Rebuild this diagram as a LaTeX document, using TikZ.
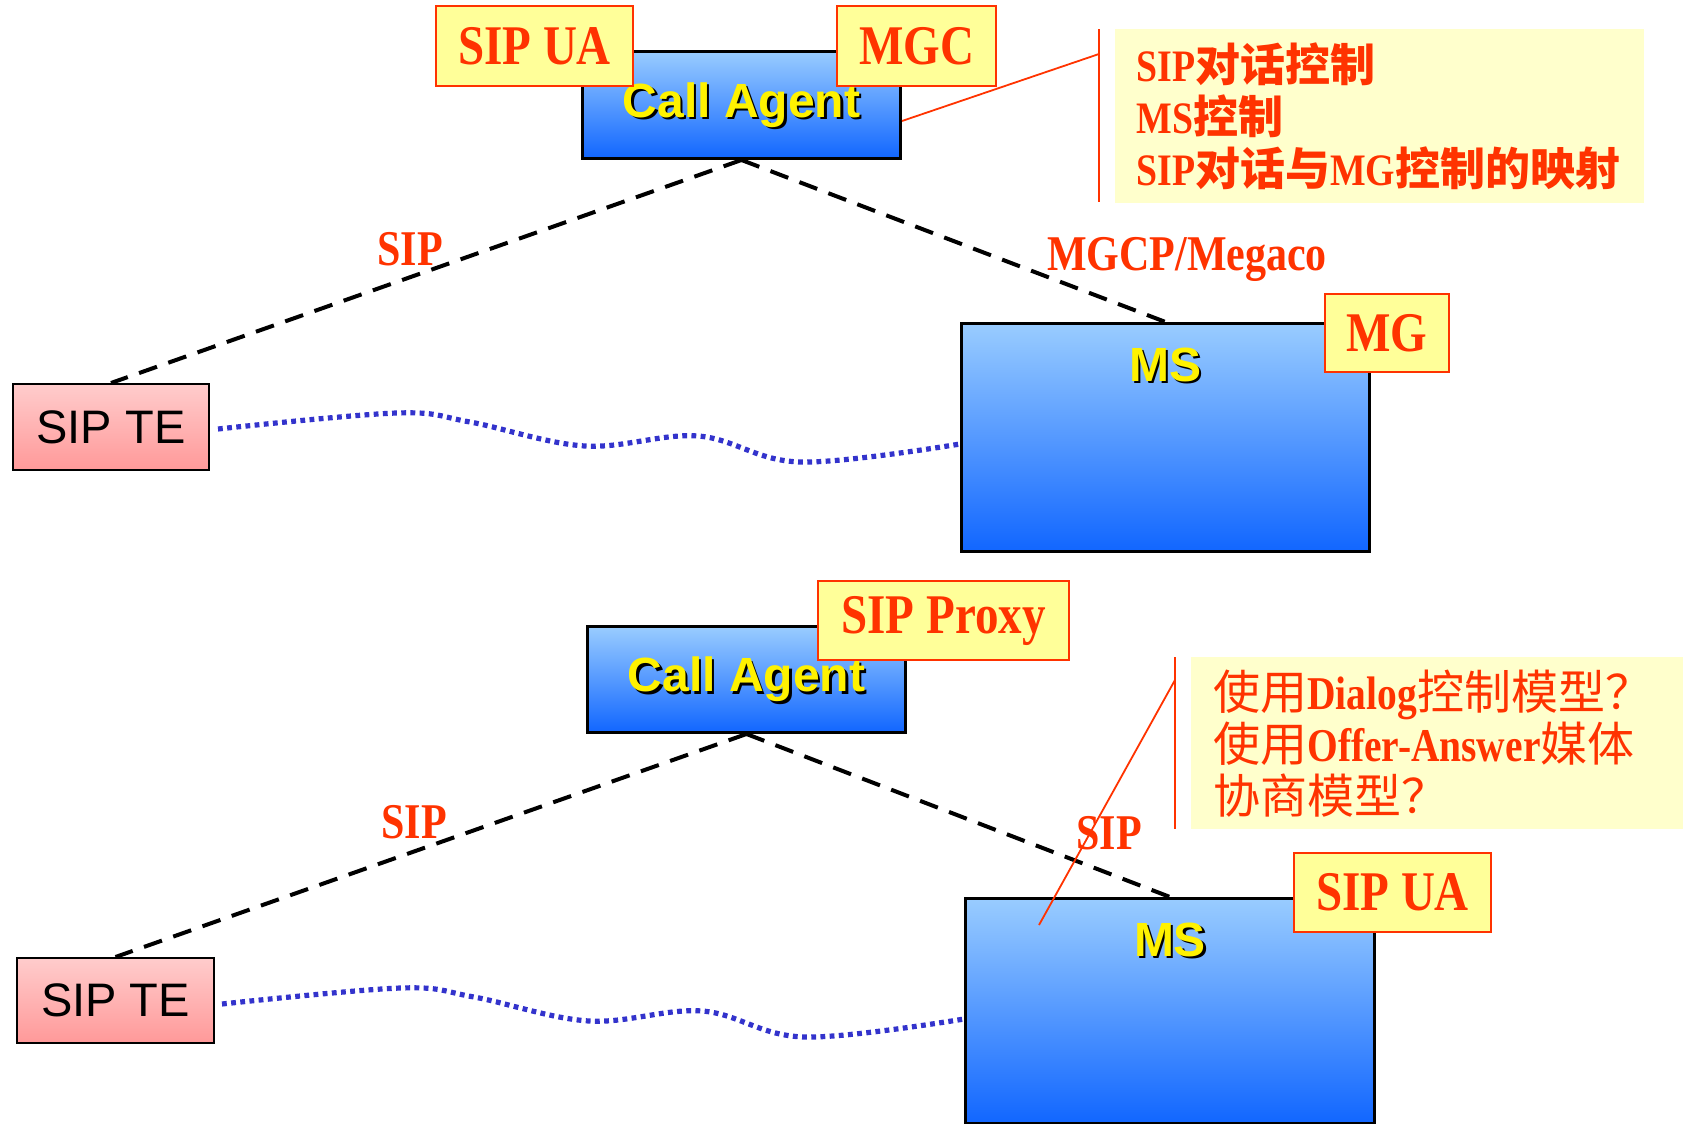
\documentclass[tikz,border=0pt]{standalone}
\usepackage{fontspec}
\setmainfont{Liberation Serif}
\newfontfamily\labfont[FakeStretch=0.84]{Liberation Serif}
\newfontfamily\sansfnt{Liberation Sans}
\newfontfamily\cjkfnt{Noto Sans CJK SC}
\usetikzlibrary{backgrounds}
\newcommand{\lat}[1]{{\labfont\bfseries #1}}
\newcommand{\zh}[1]{{\cjkfnt #1}}
\newcommand{\zhb}[1]{{\cjkfnt\bfseries #1}}
\definecolor{lblred}{HTML}{FF3300}
\definecolor{lblfill}{HTML}{FFFF99}
\definecolor{notefill}{HTML}{FFFFCC}
\definecolor{bluetop}{HTML}{99CCFF}
\definecolor{bluebot}{HTML}{1166FF}
\definecolor{pinktop}{HTML}{FFCCCC}
\definecolor{pinkbot}{HTML}{FF9999}
\definecolor{wavecol}{HTML}{3333CC}
\tikzset{
  bluebox/.style={draw=black, line width=1.5pt, top color=bluetop, bottom color=bluebot, anchor=north west, inner sep=0pt},
  tebox/.style={draw=black, line width=1pt, top color=pinktop, bottom color=pinkbot, anchor=north west, inner sep=0pt, font=\sansfnt\fontsize{23.5pt}{26pt}\selectfont},
  lbl/.style={draw=lblred, line width=1pt, fill=lblfill, text=lblred, anchor=north west, inner sep=0pt, font=\labfont\bfseries\fontsize{28pt}{30pt}\selectfont},
  redlbl/.style={text=lblred, inner sep=0pt, font=\labfont\bfseries\fontsize{25pt}{27pt}\selectfont},
  yeltxt/.style={text=yellow, inner sep=0pt, font=\sansfnt\bfseries\fontsize{24pt}{26pt}\selectfont},
  shadtxt/.style={text=black, inner sep=0pt, font=\sansfnt\bfseries\fontsize{24pt}{26pt}\selectfont},
  notebox/.style={fill=notefill, draw=none},
  notetext/.style={text=lblred, inner sep=0pt, align=left, anchor=west},
  dashline/.style={black, line width=2pt, dash pattern=on 9.5pt off 6pt},
  wavy/.style={wavecol, line width=2.6pt, dash pattern=on 2.4pt off 2.2pt},
  redline/.style={lblred, line width=0.9pt}
}
\begin{document}
\begin{tikzpicture}[x=0.5pt,y=-0.5pt]
\useasboundingbox (0,0) rectangle (1683,1124);
\clip (0,0) rectangle (1683,1124);

% note backgrounds
\fill[notebox] (1115,29) rectangle (1644,203);
\fill[notebox] (1191,657) rectangle (1690,829);

% ===== top part =====
\node[bluebox, minimum width=159pt, minimum height=53.5pt] (ca1) at (581,50) {};
\node[shadtxt] (ca1s) at ([xshift=1.2pt,yshift=-1.2pt]ca1.center) {Call Agent};
\node[yeltxt] (ca1t) at (ca1.center) {Call Agent};
\node[lbl, minimum width=98.5pt, minimum height=40pt] (sipua1) at (435,5) {SIP UA};
\node[lbl, minimum width=79.5pt, minimum height=40pt] (mgc) at (836,5) {MGC};

\node[tebox, minimum width=98pt, minimum height=43pt] (te1) at (12,383) {SIP TE};
\node[bluebox, minimum width=204pt, minimum height=114pt] (ms1) at (960,322) {};
\node[shadtxt] (ms1s) at ([xshift=1.2pt,yshift=-22.7pt]ms1.north) {MS};
\node[yeltxt] (ms1t) at ([yshift=-21.5pt]ms1.north) {MS};
\node[lbl, minimum width=62pt, minimum height=39pt] (mg) at (1324,293) {MG};

\node[redlbl] (sip1) at (410,249) {SIP};
\node[redlbl] (mgcp) at (1187,259) {MGCP/Megaco};

\node[notetext, font=\fontsize{22.5pt}{26pt}\selectfont] (note1) at (1136,116)
  {\lat{SIP}\zhb{对话控制}\\\lat{MS}\zhb{控制}\\\lat{SIP}\zhb{对话与}\lat{MG}\zhb{控制的映射}};

\begin{scope}[on background layer]
  \draw[dashline] (ca1.south) -- (te1.north);
  \draw[dashline] (ca1.south) -- (ms1.north);
  \coordinate (w1s) at (218,429);
  \coordinate (w1e) at (ms1.west |- 0,444);
  \draw[wavy] plot[smooth, tension=0.6] coordinates {(w1s) (397,413) (470,422) (585,446) (698,436) (800,462) (w1e)};
\end{scope}

\coordinate (n1a) at (1099,54);
\coordinate (n1top) at (1099,29);
\coordinate (n1bot) at (1099,202);
\draw[redline] ([yshift=-8pt]ca1.east) -- (n1a);
\draw[redline] (n1top) -- (n1bot);

% ===== bottom part =====
\node[bluebox, minimum width=159pt, minimum height=53pt] (ca2) at (586,625) {};
\node[shadtxt] (ca2s) at ([xshift=1.2pt,yshift=-1.2pt]ca2.center) {Call Agent};
\node[yeltxt] (ca2t) at (ca2.center) {Call Agent};
\node[lbl, minimum width=125.5pt, minimum height=39.5pt] (proxy) at (817,580) {SIP Proxy};

\node[tebox, minimum width=98.5pt, minimum height=42.5pt] (te2) at (16,957) {SIP TE};
\node[bluebox, minimum width=204.5pt, minimum height=112.5pt] (ms2) at (964,897) {};
\node[shadtxt] (ms2s) at ([xshift=1.2pt,yshift=-22.7pt]ms2.north) {MS};
\node[yeltxt] (ms2t) at ([yshift=-21.5pt]ms2.north) {MS};
\node[lbl, minimum width=98.5pt, minimum height=39.5pt] (sipua2) at (1293,852) {SIP UA};

\node[redlbl] (sip2) at (414,822) {SIP};
\node[redlbl] (sip3) at (1109,833) {SIP};

\node[notetext, font=\fontsize{23.5pt}{26pt}\selectfont] (note2) at (1213,744)
  {\zh{使用}\lat{Dialog}\zh{控制模型？}\\\zh{使用}\lat{Offer-Answer}\zh{媒体}\\\zh{协商模型？}};

\begin{scope}[on background layer]
  \draw[dashline] (ca2.south) -- (te2.north);
  \draw[dashline] (ca2.south) -- (ms2.north);
  \coordinate (w2s) at (222,1004);
  \coordinate (w2e) at (ms2.west |- 0,1019);
  \draw[wavy] plot[smooth, tension=0.6] coordinates {(w2s) (401,988) (474,997) (589,1021) (702,1011) (804,1037) (w2e)};
\end{scope}

\coordinate (n2a) at (1175,680);
\coordinate (n2b) at (1039,925);
\coordinate (n2top) at (1175,657);
\coordinate (n2bot) at (1175,829);
\draw[redline] (n2a) -- (n2b);
\draw[redline] (n2top) -- (n2bot);
\end{tikzpicture}
\end{document}
